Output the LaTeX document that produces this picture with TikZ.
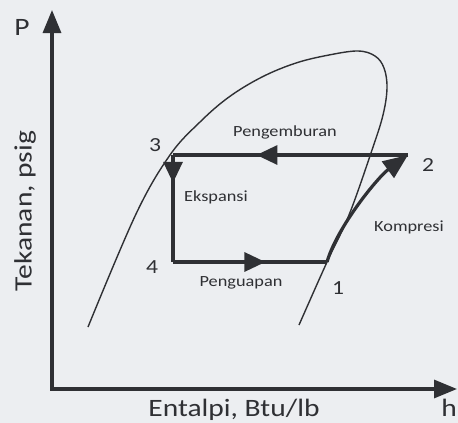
\documentclass[tikz,border=0pt]{standalone}
\usepackage{fontspec}
\setmainfont{Carlito}[FakeStretch=1.18]
\usetikzlibrary{arrows.meta,decorations.markings}

\definecolor{ink}{HTML}{2F3034}
\definecolor{paper}{HTML}{ECEEF1}

\tikzset{
  axisline/.style={line width=3.2pt, color=ink, line join=miter,
    {Triangle[length=23pt,width=18pt]}-{Triangle[length=23pt,width=18pt]}},
  cycleline/.style={line width=3.2pt, color=ink},
  midtip/.style={postaction={decorate},
    decoration={markings, mark=at position #1 with {\arrow{Triangle[length=21pt,width=19pt]}}}},
  smalltext/.style={font=\fontsize{15.5}{17}\selectfont, text=ink, inner sep=0pt},
  bigtext/.style={font=\fontsize{25}{28}\selectfont, text=ink, inner sep=0pt},
  numtext/.style={font=\fontsize{20}{22}\selectfont, text=ink, inner sep=0pt},
}

\begin{document}
\begin{tikzpicture}[x=1pt,y=-1pt]
\fill[paper] (0,0) rectangle (458,423);
\useasboundingbox (0,0) rectangle (458,423);

% axes
\coordinate (O) at (52,389);
\coordinate (ytop) at (52,10);
\coordinate (xend) at (457,389);
\draw[axisline] (ytop) -- (O) -- (xend);
\node[bigtext] (plabel) at (22,27) {P};
\node[bigtext] (hlabel) at (449,408) {h};
\node[bigtext] (xlabel) at (234,410) {Entalpi, Btu/lb};
\node[bigtext, rotate=90] (ylabel) at (25,211) {Tekanan, psig};

% saturation dome
\draw[ink, line width=1.4pt] plot[smooth, tension=0.6] coordinates {
  (88,327) (136,214) (170,155) (200,122) (229,97) (262,77) (296,63)
  (329,55) (358,51) (375,56) (384,68) (387,88) (383,115) (372,150)
  (349,215) (327,262) (299,325)};

% cycle points
\coordinate (p1) at (327,262);
\coordinate (p2) at (408,155);
\coordinate (p3) at (173,155);
\coordinate (p4) at (173,262);

\draw[cycleline, midtip=0.645] (p2) -- (p3);
\draw[cycleline, midtip=0.26] (p3) -- (p4);
\draw[cycleline, midtip=0.6] (p4) -- (p1);
\draw[cycleline, -{Triangle[length=25pt,width=20pt]}]
  (p1) .. controls (337,227) and (378,177) .. (p2);

\node[numtext] (n1) at (338,288) {1};
\node[numtext] (n2) at (428,165) {2};
\node[numtext] (n3) at (155,145) {3};
\node[numtext] (n4) at (152,267) {4};

\node[smalltext] (kondensasi) at (285,132) {Pengemburan};
\node[smalltext] (ekspansi) at (216,197) {Ekspansi};
\node[smalltext] (kompresi) at (409,227) {Kompresi};
\node[smalltext] (penguapan) at (241,283) {Penguapan};
\end{tikzpicture}
\end{document}
